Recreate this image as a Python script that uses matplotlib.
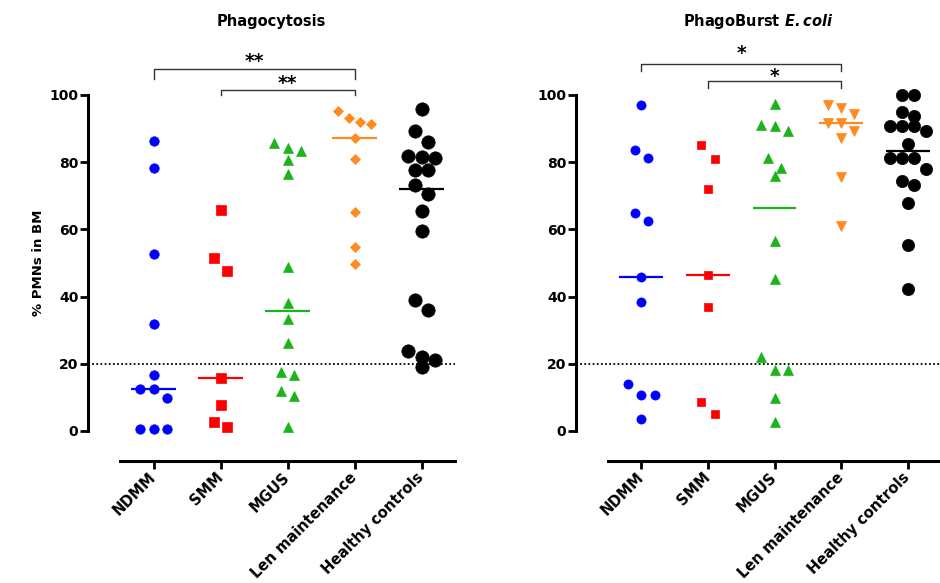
import matplotlib
matplotlib.use('Agg')
import matplotlib.pyplot as plt
import numpy as np

plt.rcParams['font.family'] = 'DejaVu Sans'
plt.rcParams['font.weight'] = 'bold'
plt.rcParams['mathtext.fontset'] = 'dejavusans'

groups = ['NDMM', 'SMM', 'MGUS', 'Len maintenance', 'Healthy controls']

# Phagocytosis (% PMNs in BM)
phago_ndmm = [86.4, 78.2, 52.7, 31.8, 16.6, 12.4, 12.4, 9.7, 0.5, 0.5, 0.5]
phago_smm = [65.7, 51.4, 47.6, 15.9, 7.7, 2.8, 1.3]
phago_mgus = [85.6, 84.3, 83.3, 80.6, 76.4, 48.7, 38.2, 33.4, 26.1,
              17.6, 16.7, 11.9, 10.4, 1.3]
phago_len = [95.3, 93.1, 92.1, 91.4, 87.3, 81.0, 65.3, 54.7, 49.6]
phago_hc = [95.8, 89.4, 86.1, 81.8, 81.6, 81.2, 77.7, 77.7, 73.3, 70.5,
            65.5, 59.5, 38.9, 36.1, 23.9, 22.1, 21.1, 19.1]

# PhagoBurst E.coli
burst_ndmm = [96.9, 83.5, 81.2, 64.9, 62.4, 45.8, 38.3, 14.0, 10.6, 10.6, 3.7]
burst_smm = [85.0, 81.0, 72.0, 46.4, 37.0, 8.7, 5.1]
burst_mgus = [97.2, 91.1, 90.8, 89.3, 81.2, 78.4, 76.0, 56.6, 45.1,
              22.1, 18.2, 18.2, 9.7, 2.6]
burst_len = [97.0, 96.2, 94.3, 91.8, 91.8, 89.4, 87.1, 75.7, 61.1]
burst_hc = [100, 100, 95.0, 93.8, 90.8, 90.8, 90.8, 89.4, 85.3, 81.2, 81.2,
            81.2, 77.9, 74.4, 73.2, 67.9, 55.4, 42.2]

colors = ['#0000ff', '#ff0000', '#1db31d', '#ff8a1f', '#000000']


def row_offsets(vals, row_h, step):
    # spread points that fall in the same horizontal band, like a column scatter
    vals = np.asarray(vals, float)
    order = np.argsort(-vals, kind='stable')
    offs = np.zeros(len(vals))
    rows, row = [], []
    for i in order:
        if row and vals[row[0]] - vals[i] > row_h:
            rows.append(row)
            row = []
        row.append(i)
    rows.append(row)
    for r in rows:
        n = len(r)
        for k, i in enumerate(r):
            offs[i] = (k - (n - 1) / 2) * step
    return offs


def panel(ax, data, markers, sizes, steps):
    for i, vals in enumerate(data):
        vals = np.asarray(vals, float)
        offs = row_offsets(vals, 4.0, steps[i])
        ax.plot(i + offs, vals, ls='none', marker=markers[i], ms=sizes[i],
                color=colors[i], mec=colors[i], mew=0.5, clip_on=False, zorder=3)
        med = np.median(vals)
        ax.plot([i - 0.33, i + 0.33], [med, med], color=colors[i], lw=1.6,
                zorder=2, solid_capstyle='butt')

    ax.set_xlim(-0.5, 4.5)
    ax.set_ylim(0, 100)
    # spines first: moving them resets the ticks
    for s in ['top', 'right']:
        ax.spines[s].set_visible(False)
    ax.spines['left'].set_position(('outward', 23))
    ax.spines['bottom'].set_position(('outward', 21.5))
    ax.spines['left'].set_linewidth(2.2)
    ax.spines['bottom'].set_linewidth(2.2)

    ax.tick_params(axis='y', width=2, length=6, labelsize=10, pad=1)
    ax.tick_params(axis='x', width=2, length=6, pad=4, labelsize=10.5)
    ax.set_yticks([0, 20, 40, 60, 80, 100])
    ax.set_xticks(range(len(groups)))
    ax.set_xticklabels(groups, rotation=45, ha='right', va='center',
                       rotation_mode='anchor', fontweight='bold')
    for lab in ax.get_yticklabels():
        lab.set_fontweight('bold')
    # dotted threshold line from the y axis to the right end
    ax.axhline(20, xmin=-0.097, xmax=1.0, color='black', lw=1.3,
               ls=(0, (1, 1.3)), clip_on=False, zorder=1)


def bracket(ax, x1, x2, ytop, ylow1, ylow2, star, star_y):
    ax.plot([x1, x1, x2, x2], [ylow1, ytop, ytop, ylow2], color='#333333',
            lw=1.0, clip_on=False)
    ax.text((x1 + x2) / 2, star_y, star, ha='center', va='center',
            fontsize=13.5, fontweight='bold', clip_on=False)


fig = plt.figure(figsize=(9.4, 5.83), dpi=100)
ax1 = fig.add_axes([120 / 940, 152 / 583, 335 / 940, 336 / 583])
ax2 = fig.add_axes([608 / 940, 152 / 583, 333 / 940, 336 / 583])

panel(ax1, [phago_ndmm, phago_smm, phago_mgus, phago_len, phago_hc],
      ['o', 's', '^', 'D', 'o'], [6.8, 6.5, 7.4, 4.6, 9.6],
      [0.197, 0.197, 0.197, 0.163, 0.203])
panel(ax2, [burst_ndmm, burst_smm, burst_mgus, burst_len, burst_hc],
      ['o', 's', '^', 'v', 'o'], [6.6, 6.2, 6.8, 7.2, 8.8],
      [0.2, 0.2, 0.2, 0.2, 0.18])

bracket(ax1, 0, 3, 107.7, 104.8, 104.8, '**', 109.9)
bracket(ax1, 1, 3, 101.5, 100.0, 100.0, '**', 103.4)
bracket(ax2, 0, 3, 109.2, 107.1, 107.1, '*', 112.4)
bracket(ax2, 1, 3, 104.1, 102.1, 102.1, '*', 105.4)

fig.text(271 / 940, 1 - 26 / 583, 'Phagocytosis', ha='center', va='baseline',
         fontsize=10.5, fontweight='bold')
fig.text(758 / 940, 1 - 26 / 583, r'PhagoBurst $\mathbfit{E.coli}$', ha='center',
         va='baseline', fontsize=10.5, fontweight='bold')
fig.text(38 / 940, 1 - 263 / 583, '% PMNs in BM', rotation=90, ha='center',
         va='center', fontsize=9.5, fontweight='bold')

fig.savefig('out.png', dpi=100)
